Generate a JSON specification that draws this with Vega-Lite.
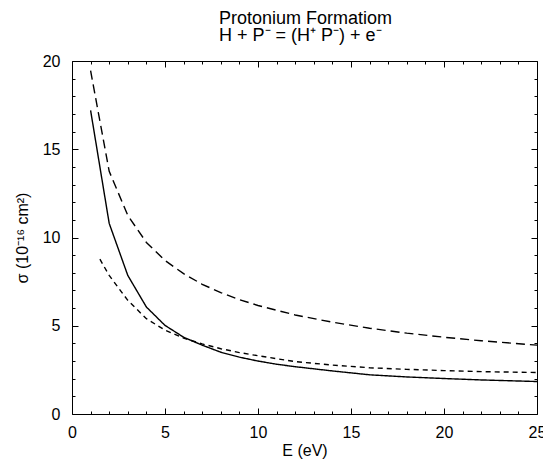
{
  "$schema": "https://vega.github.io/schema/vega-lite/v6.json",
  "width": 465,
  "height": 353,
  "autosize": {"type": "none"},
  "padding": {"left": 72, "top": 61, "right": 6, "bottom": 47},
  "background": "white",
  "config": {
    "font": "Liberation Sans",
    "view": {"stroke": "black", "strokeWidth": 1},
    "axis": {"domain": false, "grid": false, "tickColor": "black", "tickWidth": 1, "labelColor": "black", "titleColor": "black", "titleFontWeight": "normal", "labelOverlap": false, "labelFlush": false, "labelBound": false, "zindex": 1}
  },
  "title": {
    "text": ["Protonium Formatiom", "H + P⁻  = (H⁺ P⁻) + e⁻"],
    "anchor": "start",
    "frame": "group",
    "dx": 147,
    "fontSize": 18,
    "fontWeight": "normal",
    "lineHeight": 17,
    "offset": 8,
    "font": "Liberation Sans",
    "color": "black"
  },
  "data": {
    "values": [
      {"E": 1, "sigma": 17.2, "series": "a"},
      {"E": 2, "sigma": 10.8, "series": "a"},
      {"E": 3, "sigma": 7.85, "series": "a"},
      {"E": 4, "sigma": 6.06, "series": "a"},
      {"E": 5, "sigma": 5.02, "series": "a"},
      {"E": 6, "sigma": 4.35, "series": "a"},
      {"E": 7, "sigma": 3.9, "series": "a"},
      {"E": 8, "sigma": 3.5, "series": "a"},
      {"E": 9, "sigma": 3.22, "series": "a"},
      {"E": 10, "sigma": 3.0, "series": "a"},
      {"E": 11, "sigma": 2.82, "series": "a"},
      {"E": 12, "sigma": 2.68, "series": "a"},
      {"E": 14, "sigma": 2.44, "series": "a"},
      {"E": 16, "sigma": 2.22, "series": "a"},
      {"E": 18, "sigma": 2.1, "series": "a"},
      {"E": 20, "sigma": 2.01, "series": "a"},
      {"E": 22, "sigma": 1.93, "series": "a"},
      {"E": 25, "sigma": 1.84, "series": "a"},
      {"E": 1, "sigma": 19.45, "series": "b"},
      {"E": 2, "sigma": 13.75, "series": "b"},
      {"E": 3, "sigma": 11.25, "series": "b"},
      {"E": 4, "sigma": 9.72, "series": "b"},
      {"E": 5, "sigma": 8.7, "series": "b"},
      {"E": 6, "sigma": 7.95, "series": "b"},
      {"E": 7, "sigma": 7.35, "series": "b"},
      {"E": 8, "sigma": 6.88, "series": "b"},
      {"E": 9, "sigma": 6.48, "series": "b"},
      {"E": 10, "sigma": 6.15, "series": "b"},
      {"E": 12, "sigma": 5.61, "series": "b"},
      {"E": 14, "sigma": 5.2, "series": "b"},
      {"E": 16, "sigma": 4.86, "series": "b"},
      {"E": 18, "sigma": 4.58, "series": "b"},
      {"E": 20, "sigma": 4.35, "series": "b"},
      {"E": 22, "sigma": 4.15, "series": "b"},
      {"E": 25, "sigma": 3.9, "series": "b"},
      {"E": 1.5, "sigma": 8.77, "series": "c"},
      {"E": 2, "sigma": 7.85, "series": "c"},
      {"E": 3, "sigma": 6.44, "series": "c"},
      {"E": 4, "sigma": 5.4, "series": "c"},
      {"E": 5, "sigma": 4.75, "series": "c"},
      {"E": 6, "sigma": 4.3, "series": "c"},
      {"E": 7, "sigma": 3.97, "series": "c"},
      {"E": 8, "sigma": 3.7, "series": "c"},
      {"E": 9, "sigma": 3.48, "series": "c"},
      {"E": 10, "sigma": 3.3, "series": "c"},
      {"E": 12, "sigma": 2.97, "series": "c"},
      {"E": 14, "sigma": 2.77, "series": "c"},
      {"E": 16, "sigma": 2.62, "series": "c"},
      {"E": 18, "sigma": 2.53, "series": "c"},
      {"E": 20, "sigma": 2.46, "series": "c"},
      {"E": 22, "sigma": 2.4, "series": "c"},
      {"E": 25, "sigma": 2.35, "series": "c"}
    ]
  },
  "layer": [
    {
      "mark": {"type": "line", "color": "black", "strokeWidth": 1.4},
      "encoding": {
        "x": {
          "field": "E", "type": "quantitative",
          "scale": {"domain": [0, 25], "nice": false, "zero": false},
          "axis": {
            "orient": "bottom",
            "values": [0, 5, 10, 15, 20, 25],
            "offset": -6,
            "tickSize": 6,
            "labelPadding": 10,
            "labelFontSize": 16,
            "title": "E (eV)",
            "titleFontSize": 16,
            "titlePadding": 2
          }
        },
        "y": {
          "field": "sigma", "type": "quantitative",
          "scale": {"domain": [0, 20], "nice": false},
          "axis": {
            "orient": "left",
            "values": [0, 5, 10, 15, 20],
            "offset": -6,
            "tickSize": 6,
            "labelPadding": 12,
            "labelFontSize": 16,
            "title": "σ (10⁻¹⁶ cm²)",
            "titleFontSize": 16,
            "titlePadding": 12
          }
        },
        "strokeDash": {
          "field": "series", "type": "nominal",
          "scale": {"domain": ["a", "b", "c"], "range": [[1, 0], [9, 5], [5, 4]]},
          "legend": null
        }
      }
    },
    {
      "mark": {"type": "line", "opacity": 0},
      "encoding": {
        "x": {
          "field": "E", "type": "quantitative",
          "axis": {"orient": "bottom", "values": [1,2,3,4,6,7,8,9,11,12,13,14,16,17,18,19,21,22,23,24], "offset": -3, "tickSize": 3, "labels": false, "title": null}
        },
        "y": {
          "field": "sigma", "type": "quantitative",
          "axis": {"orient": "left", "values": [1,2,3,4,6,7,8,9,11,12,13,14,16,17,18,19], "offset": -3, "tickSize": 3, "labels": false, "title": null}
        },
        "detail": {"field": "series", "type": "nominal"}
      }
    },
    {
      "mark": {"type": "line", "opacity": 0},
      "encoding": {
        "x": {
          "field": "E", "type": "quantitative",
          "axis": {"orient": "top", "values": [0, 5, 10, 15, 20, 25], "offset": -6, "tickSize": 6, "labels": false, "title": null}
        },
        "y": {
          "field": "sigma", "type": "quantitative",
          "axis": {"orient": "right", "values": [0, 5, 10, 15, 20], "offset": -6, "tickSize": 6, "labels": false, "title": null}
        },
        "detail": {"field": "series", "type": "nominal"}
      }
    },
    {
      "mark": {"type": "line", "opacity": 0},
      "encoding": {
        "x": {
          "field": "E", "type": "quantitative",
          "axis": {"orient": "top", "values": [1,2,3,4,6,7,8,9,11,12,13,14,16,17,18,19,21,22,23,24], "offset": -3, "tickSize": 3, "labels": false, "title": null}
        },
        "y": {
          "field": "sigma", "type": "quantitative",
          "axis": {"orient": "right", "values": [1,2,3,4,6,7,8,9,11,12,13,14,16,17,18,19], "offset": -3, "tickSize": 3, "labels": false, "title": null}
        },
        "detail": {"field": "series", "type": "nominal"}
      }
    }
  ],
  "resolve": {"axis": {"x": "independent", "y": "independent"}}
}
